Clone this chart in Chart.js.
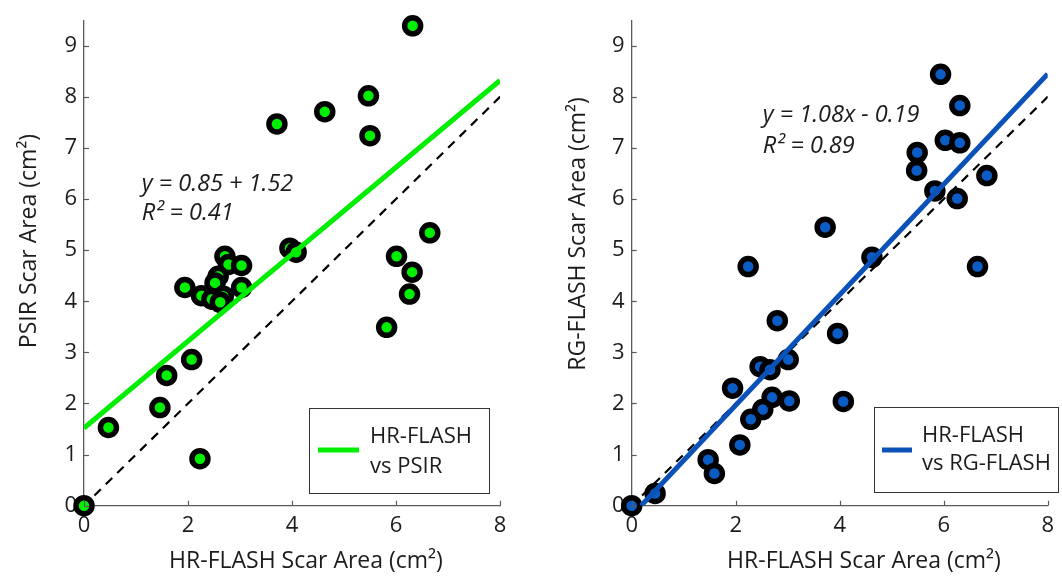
<!DOCTYPE html>
<html>
<head>
<meta charset="utf-8">
<script src="https://cdn.jsdelivr.net/npm/chart.js@4.4.1/dist/chart.umd.min.js"></script>
<style>
    html, body { margin: 0; padding: 0; background: #fff; }
    #wrap { position: relative; width: 1062px; height: 581px; overflow: hidden; }
    canvas { position: absolute; top: 0; }
    #left-chart { left: 0; }
    #right-chart { left: 531px; }
</style>
</head>
<body>
<div id="wrap">
    <canvas id="left-chart" width="531" height="581"></canvas>
    <canvas id="right-chart" width="531" height="581"></canvas>
</div>
<script>
// --- Data ---

const xTicks = [0, 2, 4, 6, 8];
const yTicks = [0, 1, 2, 3, 4, 5, 6, 7, 8, 9];

// HR-FLASH vs PSIR
const psirX = [6.32, 5.47, 4.63, 3.71, 5.50, 6.65, 6.01, 3.96, 4.08, 2.71, 2.78, 3.03, 6.31, 6.26, 5.82,
    1.94, 2.26, 2.58, 2.52, 3.03, 2.46, 2.68, 2.62, 2.07, 1.59, 1.46, 0.47, 2.23, 0];
const psirY = [9.39, 8.02, 7.71, 7.47, 7.24, 5.34, 4.88, 5.04, 4.96, 4.88, 4.72, 4.70, 4.57, 4.14, 3.49,
    4.27, 4.11, 4.49, 4.36, 4.27, 4.04, 4.10, 3.98, 2.86, 2.55, 1.92, 1.53, 0.92, 0];

// HR-FLASH vs RG-FLASH
const rgX = [5.94, 6.31, 6.03, 6.31, 5.49, 5.48, 6.83, 5.83, 6.26, 3.72, 4.62, 2.24, 6.65, 2.80, 3.96,
    3.01, 2.47, 2.66, 1.94, 2.70, 3.03, 4.07, 2.52, 2.29, 2.08, 1.47, 1.59, 0.45, 0];
const rgY = [8.44, 7.83, 7.15, 7.10, 6.91, 6.56, 6.46, 6.16, 6.01, 5.45, 4.86, 4.68, 4.68, 3.62, 3.37,
    2.86, 2.72, 2.66, 2.30, 2.12, 2.05, 2.04, 1.88, 1.69, 1.19, 0.90, 0.63, 0.24, 0];

// fit lines and identity line (end points)
const psirFitX = [0, 8];
const psirFitY = [1.52, 8.32];
const rgFitX = [0.18, 8];
const rgFitY = [0, 8.45];
const identityX = [0.2, 8.02];
const identityY = [0.2, 8.02];

const FONT = "'Open Sans', sans-serif";
const TEXT = '#1c1c1c';
const AXIS = '#5a5a5a';

function toPoints(xs, ys) {
    return xs.map((x, i) => ({ x, y: ys[i] }));
}

// --- Decorations: inward ticks, titles, equation text, legend box ---

const decorPlugin = {
    id: 'decor',
    afterDraw(chart, args, opts) {
        const ctx = chart.ctx;
        const xs = chart.scales.x;
        const ys = chart.scales.y;
        const area = chart.chartArea;

        ctx.save();
        // inward tick marks
        ctx.strokeStyle = AXIS;
        ctx.lineWidth = 1.2;
        xTicks.forEach(v => {
            const px = Math.round(xs.getPixelForValue(v)) + 0.5;
            ctx.beginPath();
            ctx.moveTo(px, area.bottom);
            ctx.lineTo(px, area.bottom - 5);
            ctx.stroke();
        });
        yTicks.forEach(v => {
            const py = Math.round(ys.getPixelForValue(v)) + 0.5;
            ctx.beginPath();
            ctx.moveTo(area.left, py);
            ctx.lineTo(area.left + 5, py);
            ctx.stroke();
        });

        // axis titles
        ctx.fillStyle = TEXT;
        ctx.font = `23px ${FONT}`;
        ctx.textAlign = 'center';
        ctx.textBaseline = 'middle';
        ctx.fillText(opts.xTitle, opts.xTitlePos[0], opts.xTitlePos[1]);
        ctx.save();
        ctx.translate(opts.yTitlePos[0], opts.yTitlePos[1]);
        ctx.rotate(-Math.PI / 2);
        ctx.fillText(opts.yTitle, 0, 0);
        ctx.restore();

        // regression text
        ctx.font = `italic 23.5px ${FONT}`;
        ctx.textAlign = 'left';
        opts.notes.forEach(n => {
            ctx.fillText(n.text, xs.getPixelForValue(n.x), ys.getPixelForValue(n.y));
        });

        // legend
        const b = opts.legend;
        ctx.strokeStyle = '#333';
        ctx.lineWidth = 1;
        ctx.fillStyle = '#fff';
        ctx.fillRect(b.box[0], b.box[1], b.box[2], b.box[3]);
        ctx.strokeRect(b.box[0] + 0.5, b.box[1] + 0.5, b.box[2], b.box[3]);
        ctx.strokeStyle = b.color;
        ctx.lineWidth = 5;
        ctx.beginPath();
        ctx.moveTo(b.line[0], b.line[2]);
        ctx.lineTo(b.line[1], b.line[2]);
        ctx.stroke();
        ctx.fillStyle = TEXT;
        ctx.font = `22px ${FONT}`;
        b.lines.forEach((t, i) => ctx.fillText(t, b.textX, b.textY[i]));
        ctx.restore();
    }
};

function makeChart(canvasId, cfg) {
    return new Chart(document.getElementById(canvasId), {
        type: 'scatter',
        data: {
            datasets: [
                {
                    data: toPoints(identityX, identityY),
                    showLine: true,
                    borderColor: '#000',
                    borderWidth: 2.2,
                    borderDash: [9, 7],
                    pointRadius: 0,
                    order: 1,
                },
                {
                    data: toPoints(cfg.fitX, cfg.fitY),
                    showLine: true,
                    borderColor: cfg.lineColor,
                    borderWidth: 5,
                    pointRadius: 0,
                    order: 0,
                },
                {
                    data: toPoints(cfg.xs, cfg.ys),
                    pointRadius: 8,
                    pointBorderWidth: 5.5,
                    pointBackgroundColor: cfg.fillColor,
                    pointBorderColor: '#000',
                    clip: false,
                    order: 2,
                },
            ],
        },
        options: {
            responsive: false,
            animation: false,
            devicePixelRatio: 1,
            layout: { padding: { left: 0, top: 10.7, right: cfg.padRight, bottom: 0 } },
            plugins: {
                legend: { display: false },
                tooltip: { enabled: false },
                decor: cfg.decor,
            },
            scales: {
                x: {
                    type: 'linear',
                    min: 0,
                    max: 8,
                    afterBuildTicks: s => { s.ticks = xTicks.map(v => ({ value: v })); },
                    afterFit: s => { s.height = 75.3; },
                    grid: { display: false, drawTicks: false },
                    border: { display: true, color: AXIS, width: 1.3 },
                    ticks: { color: TEXT, padding: 7, font: { family: FONT, size: 22 }, maxRotation: 0 },
                },
                y: {
                    type: 'linear',
                    min: 0,
                    max: 9.5,
                    afterBuildTicks: s => { s.ticks = yTicks.map(v => ({ value: v })); },
                    afterFit: s => { s.width = cfg.yWidth; },
                    grid: { display: false, drawTicks: false },
                    border: { display: true, color: AXIS, width: 1.3 },
                    ticks: { color: TEXT, padding: 7, font: { family: FONT, size: 22 } },
                },
            },
        },
        plugins: [decorPlugin],
    });
}

makeChart('left-chart', {
    xs: psirX, ys: psirY,
    fitX: psirFitX, fitY: psirFitY,
    lineColor: '#00ee00', fillColor: '#00ee00',
    padRight: 31, yWidth: 84,
    decor: {
        xTitle: 'HR-FLASH Scar Area (cm²)', xTitlePos: [306, 561],
        yTitle: 'PSIR Scar Area (cm²)', yTitlePos: [29, 241],
        notes: [
            { text: 'y = 0.85 + 1.52', x: 1.11, y: 6.29 },
            { text: 'R² = 0.41', x: 1.11, y: 5.73 },
        ],
        legend: {
            box: [309, 408, 180, 85], color: '#00ee00',
            line: [318, 359, 450], textX: 370, textY: [437, 467],
            lines: ['HR-FLASH', 'vs PSIR'],
        },
    },
});

makeChart('right-chart', {
    xs: rgX, ys: rgY,
    fitX: rgFitX, fitY: rgFitY,
    lineColor: '#0a52b8', fillColor: '#0b5cc4',
    padRight: 14.3, yWidth: 100.7,
    decor: {
        xTitle: 'HR-FLASH Scar Area (cm²)', xTitlePos: [333, 561],
        yTitle: 'RG-FLASH Scar Area (cm²)', yTitlePos: [47, 234],
        notes: [
            { text: 'y = 1.08x - 0.19', x: 2.52, y: 7.63 },
            { text: 'R² = 0.89', x: 2.52, y: 7.04 },
        ],
        legend: {
            box: [343, 407, 184, 85], color: '#0a52b8',
            line: [351, 381, 450], textX: 391, textY: [436, 464],
            lines: ['HR-FLASH', 'vs RG-FLASH'],
        },
    },
});
</script>
</body>
</html>
